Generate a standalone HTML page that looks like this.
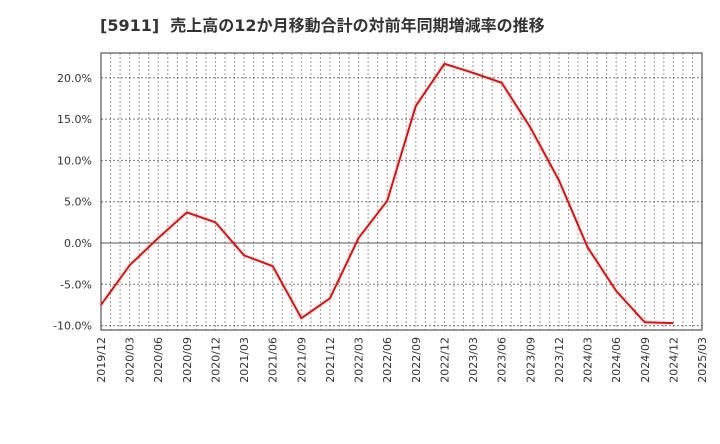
<!DOCTYPE html>
<html><head><meta charset="utf-8"><style>
body{margin:0;background:#fff;width:720px;height:440px;overflow:hidden;font-family:"DejaVu Sans","Noto Sans CJK JP",sans-serif}
</style></head><body>
<svg id="c" width="720" height="440" xmlns="http://www.w3.org/2000/svg">
<text x="100" y="31" font-size="16" font-weight="bold" fill="#333" font-family="DejaVu Sans, Noto Sans CJK JP, sans-serif" xml:space="preserve">[5911]  売上高の12か月移動合計の対前年同期増減率の推移</text>
</svg>
<script>
const xLabels=["2019/12","2020/03","2020/06","2020/09","2020/12","2021/03","2021/06","2021/09","2021/12","2022/03","2022/06","2022/09","2022/12","2023/03","2023/06","2023/09","2023/12","2024/03","2024/06","2024/09","2024/12","2025/03"];
const values=[-7.5,-2.7,0.6,3.7,2.5,-1.5,-2.8,-9.1,-6.7,0.6,5.1,16.6,21.7,20.6,19.4,14.0,7.6,-0.5,-5.8,-9.6,-9.7];
const yTicks=[-10,-5,0,5,10,15,20];
const yTickLabels=["-10.0%","-5.0%","0.0%","5.0%","10.0%","15.0%","20.0%"];
const L=101,R=702,T=53,B=330;
const NS="http://www.w3.org/2000/svg";
const svg=document.getElementById('c');
const xs=i=>L+(R-L)*i/(xLabels.length-1);
const ys=v=>243-v*8.26;
function mk(t,a){const e=document.createElementNS(NS,t);for(const k in a)e.setAttribute(k,a[k]);svg.appendChild(e);return e;}
const bg=mk('rect',{x:L,y:T,width:R-L,height:B-T,fill:'#fff',stroke:'none'});


for(let m=1;m<(xLabels.length-1)*3;m++){
 const x=L+(R-L)*m/((xLabels.length-1)*3);
 const g=mk('line',{x1:x,x2:x,y1:T,y2:B,stroke:'#999','stroke-width':1,'stroke-dasharray':'2,2'});
 
 
}
yTicks.forEach((v,i)=>{
 const y=ys(v);
 const g=mk('line',{x1:L,x2:R,y1:y,y2:y,stroke:v===0?'#555':'#777','stroke-width':1,'stroke-dasharray':v===0?'none':'2,2'});
 
 
 const t=mk('text',{x:L-9,y:y+4,'text-anchor':'end','font-size':11,fill:'#333'});
 t.textContent=yTickLabels[i];
 
 
});
xLabels.forEach((l,i)=>{
 const x=xs(i);
 const t=mk('text',{x:0,y:0,'text-anchor':'end','font-size':11,fill:'#333',transform:`translate(${x+4},${B+7}) rotate(-90)`});
 t.textContent=l;
 
 
});
const fr=mk('rect',{x:L,y:T,width:R-L,height:B-T,fill:'none',stroke:'#333','stroke-width':1});


const p=mk('polyline',{points:values.map((v,i)=>xs(i)+','+ys(v)).join(' '),fill:'none',stroke:'#f00','stroke-width':2});


</script>
</body></html>
